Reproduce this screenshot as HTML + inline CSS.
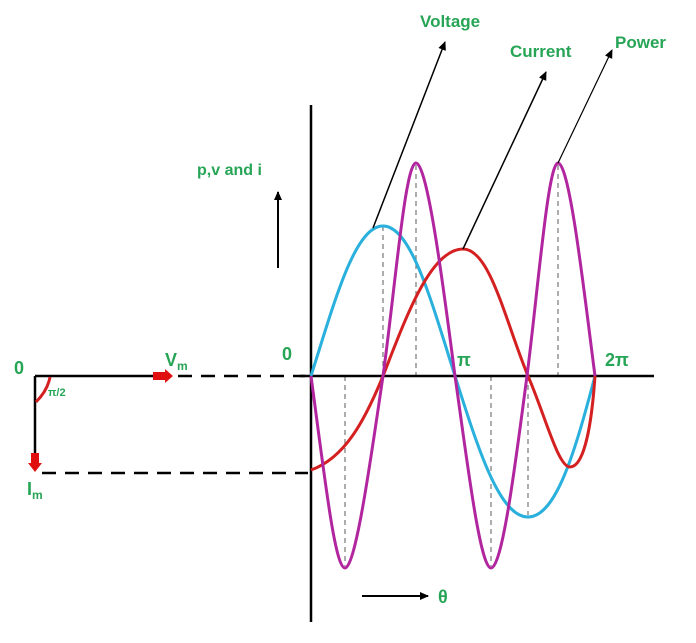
<!DOCTYPE html>
<html><head><style>body{margin:0;background:#fff}svg{display:block}</style></head><body>
<svg width="696" height="643" xmlns="http://www.w3.org/2000/svg" font-family="Liberation Sans, sans-serif">
<defs><marker id="a" markerWidth="10" markerHeight="10" refX="8" refY="4" orient="auto" markerUnits="userSpaceOnUse"><path d="M0,0 L9,4 L0,8z" fill="#000"/></marker></defs>
<g stroke="#777" stroke-width="1.2" stroke-dasharray="5,4">
<line x1="345" y1="376" x2="345" y2="566"/><line x1="383" y1="226" x2="383" y2="376"/><line x1="416" y1="165" x2="416" y2="376"/>
<line x1="491" y1="376" x2="491" y2="566"/><line x1="528" y1="376" x2="528" y2="515"/><line x1="558" y1="165" x2="558" y2="376"/>
</g>
<line x1="311" y1="105" x2="311" y2="622" stroke="#000" stroke-width="2.5"/>
<line x1="300" y1="376" x2="654" y2="376" stroke="#000" stroke-width="2.5"/>
<path d="M311,376 C335,300 355,226 383,226 C411,226 431,300 455,376 C479,452 500,517 528,517 C556,517 575,452 595,376" fill="none" stroke="#2ab0dc" stroke-width="3"/>
<path d="M311,470 C345,458 365,420 383,376 C405,320 430,249 463,249 C490,249 505,320 528,376 C545,415 558,467 570,467 C585,467 592,420 595,376" fill="none" stroke="#d42020" stroke-width="3"/>
<path d="M311,376 C325,480 335,568 345,568 C356,568 372,450 383,376 C395,290 405,163 416,163 C428,163 445,300 455,376 C467,460 480,568 491,568 C503,568 517,450 527,376 C538,290 548,163 558,163 C570,163 585,300 595,376" fill="none" stroke="#b1269f" stroke-width="3"/>
<line x1="373" y1="228" x2="445" y2="42" stroke="#000" stroke-width="1.5" marker-end="url(#a)"/>
<line x1="463" y1="249" x2="546" y2="72" stroke="#000" stroke-width="1.5" marker-end="url(#a)"/>
<line x1="558" y1="163" x2="612" y2="50" stroke="#000" stroke-width="1.2" marker-end="url(#a)"/>
<line x1="278" y1="268" x2="278" y2="192" stroke="#000" stroke-width="2" marker-end="url(#a)"/>
<line x1="362" y1="596" x2="428" y2="596" stroke="#000" stroke-width="2" marker-end="url(#a)"/>
<line x1="35" y1="376" x2="155" y2="376" stroke="#000" stroke-width="2.5"/>
<path d="M153,372 h12 v-3 l8,7 -8,7 v-3 h-12z" fill="#e01010"/>
<line x1="178" y1="376" x2="305" y2="376" stroke="#000" stroke-width="2.5" stroke-dasharray="14,9"/>
<line x1="35" y1="376" x2="35" y2="455" stroke="#000" stroke-width="2.5"/>
<path d="M31,453 v10 h-3 l7,9 7,-9 h-3 v-10z" fill="#e01010"/>
<line x1="42" y1="473" x2="308" y2="473" stroke="#000" stroke-width="2.5" stroke-dasharray="14,9"/>
<path d="M50,377 C48,388 42,396 36,402" fill="none" stroke="#d42020" stroke-width="3"/>
<g fill="#27a556" font-weight="bold">
<text x="420" y="27" font-size="17">Voltage</text>
<text x="510" y="57" font-size="17">Current</text>
<text x="615" y="48" font-size="17">Power</text>
<text x="197" y="175" font-size="16">p,v and i</text>
<text x="438" y="603" font-size="18">θ</text>
<text x="282" y="360" font-size="18">0</text>
<text x="457" y="366" font-size="18">π</text>
<text x="605" y="366" font-size="18">2π</text>
<text x="14" y="374" font-size="18">0</text>
<text x="165" y="366" font-size="18">V<tspan font-size="12" dy="4">m</tspan></text>
<text x="27" y="495" font-size="18">I<tspan font-size="12" dy="4">m</tspan></text>
<text x="48" y="396" font-size="11">π/2</text>
</g>
</svg>
</body></html>
